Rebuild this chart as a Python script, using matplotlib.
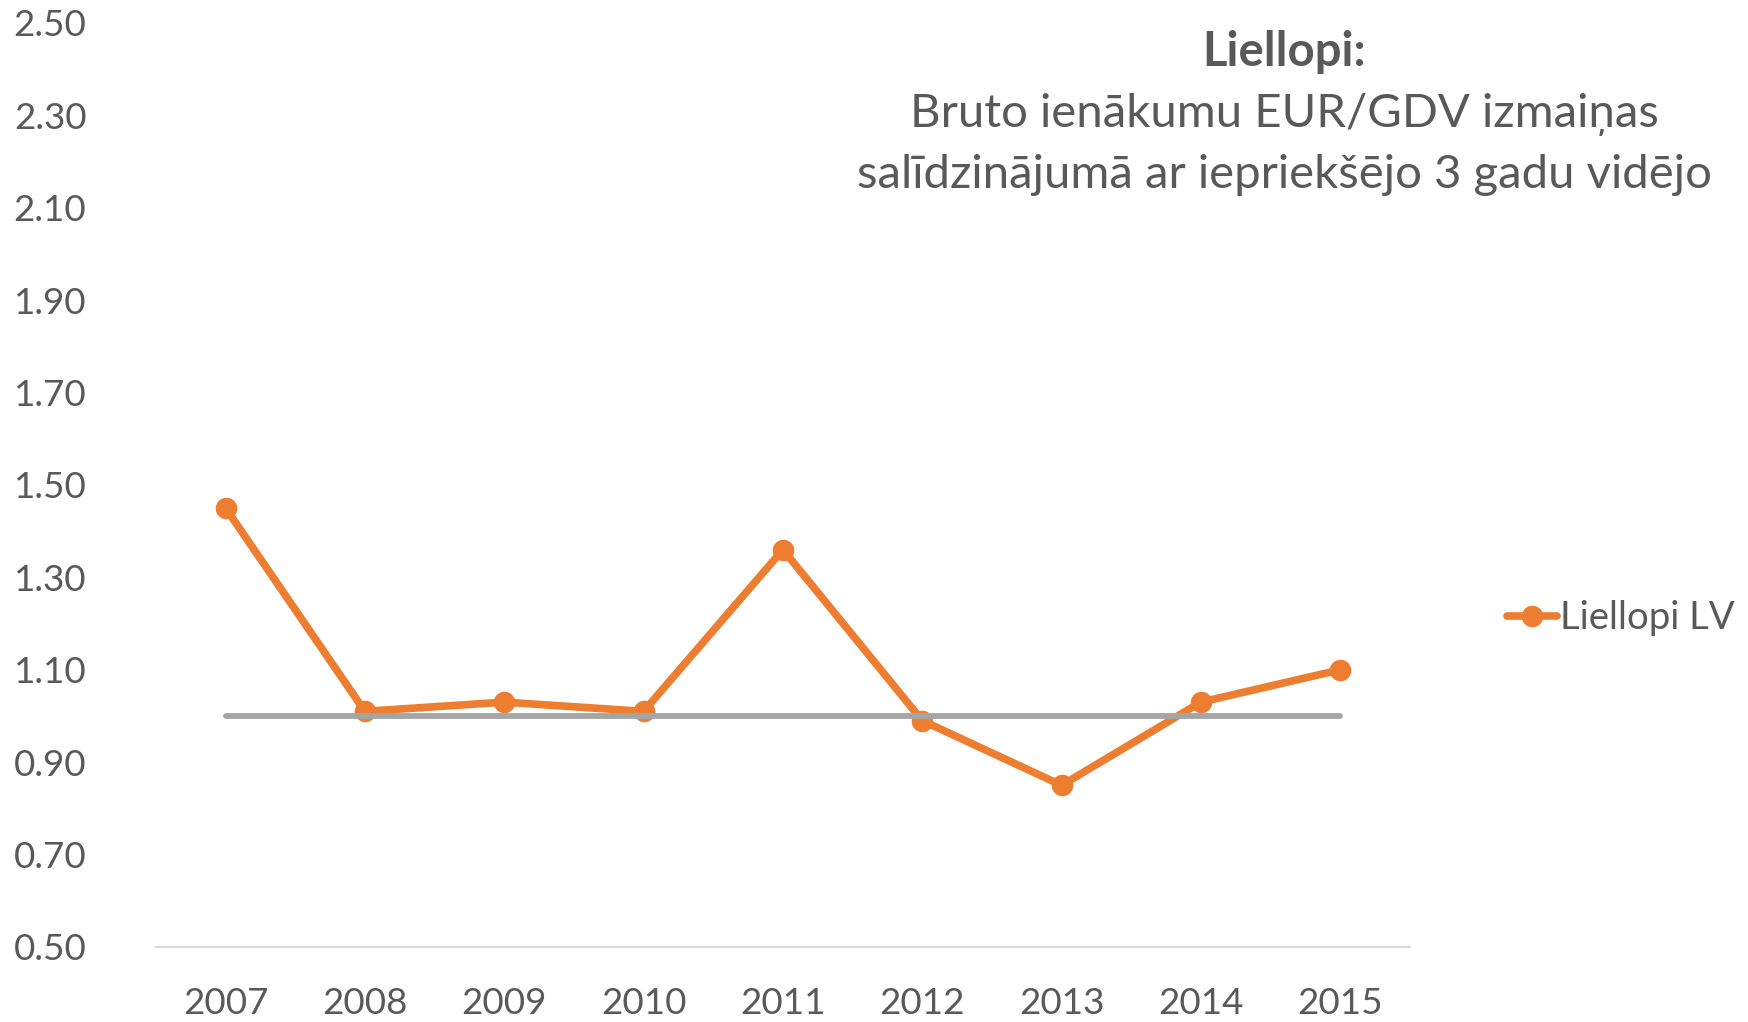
import matplotlib.pyplot as plt

years = ['2007', '2008', '2009', '2010', '2011', '2012', '2013', '2014', '2015']
liellopi_lv = [1.45, 1.01, 1.03, 1.01, 1.36, 0.99, 0.85, 1.03, 1.10]
baseline = [1.0] * len(years)
y_ticks = [0.50, 0.70, 0.90, 1.10, 1.30, 1.50, 1.70, 1.90, 2.10, 2.30, 2.50]

plt.rcParams['font.family'] = ['Lato', 'DejaVu Sans']
text_color = '#595959'

fig = plt.figure(figsize=(17.48, 10.22), dpi=100)
ax = fig.add_axes([0.0892, 0.0734, 0.7174, 0.9041])

x = list(range(len(years)))
ax.plot(x, liellopi_lv, color='#ED7D31', linewidth=5.5, marker='o', markersize=14.5,
        label='Liellopi LV', zorder=2, solid_capstyle='round')
ax.plot(x, baseline, color='#A5A5A5', linewidth=4.2, solid_capstyle='round', zorder=3)

ax.set_xlim(-0.5, len(years) - 0.5)
ax.set_ylim(0.5, 2.5)
ax.set_xticks(x)
ax.set_xticklabels(years)
ax.set_yticks(y_ticks)
ax.set_yticklabels([f'{v:.2f}' for v in y_ticks])
ax.tick_params(axis='both', length=0, labelsize=26.5, labelcolor=text_color)
ax.tick_params(axis='y', pad=50)
ax.tick_params(axis='x', pad=29)

for side in ['top', 'right', 'left']:
    ax.spines[side].set_visible(False)
ax.spines['bottom'].set_color('#D9D9D9')
ax.spines['bottom'].set_linewidth(1.5)

leg = fig.legend(handles=[ax.lines[0]], loc='center left', bbox_to_anchor=(1507 / 1748, 1 - 618 / 1022),
                 frameon=False, fontsize=27.5, handlelength=1.3, handletextpad=0.1,
                 borderpad=0, borderaxespad=0)
for t in leg.get_texts():
    t.set_color(text_color)

cx = 1284 / 1748
fig.text(cx, 1 - 52 / 1022, 'Liellopi:', ha='center', va='center', fontsize=34,
         fontweight='bold', color=text_color)
fig.text(cx, 1 - 114 / 1022, 'Bruto ienākumu EUR/GDV izmaiņas', ha='center', va='center',
         fontsize=34, color=text_color)
fig.text(cx, 1 - 175 / 1022, 'salīdzinājumā ar iepriekšējo 3 gadu vidējo', ha='center',
         va='center', fontsize=34, color=text_color)

fig.savefig('out.png', dpi=100)
